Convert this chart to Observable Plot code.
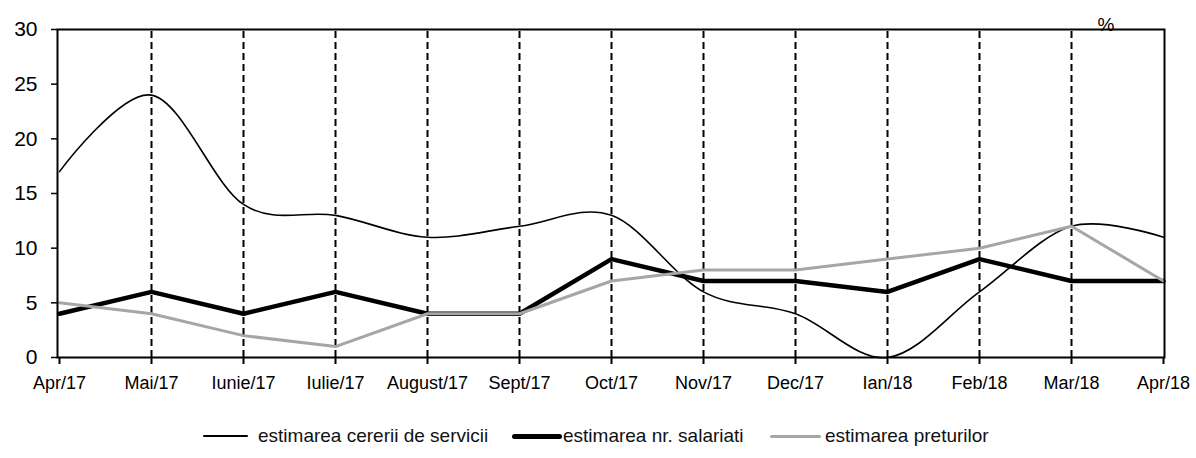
<!DOCTYPE html>
<html><head><meta charset="utf-8">
<script src="https://cdn.jsdelivr.net/npm/d3@7"></script>
<script src="https://cdn.jsdelivr.net/npm/@observablehq/plot@0.6"></script>
<style>
body{margin:0;background:#fff;font-family:"Liberation Sans",Arial,sans-serif;color:#000}
#legend{position:relative;width:1196px;height:53px}
.sw{position:absolute}
.lt{position:absolute;font-size:19px;line-height:20px;white-space:nowrap;color:#111}
</style></head><body><div id="chart"></div><div id="legend"></div>
<script>
const months = ["Apr/17","Mai/17","Iunie/17","Iulie/17","August/17","Sept/17","Oct/17","Nov/17","Dec/17","Ian/18","Feb/18","Mar/18","Apr/18"];
const cerereServicii = [17,24,14,13,11,12,13,6,4,0,6,12,11];
const nrSalariati = [4,6,4,6,4,4,9,7,7,6,9,7,7];
const preturi = [5,4,2,1,4,4,7,8,8,9,10,12,7];
const yTicks = [0,5,10,15,20,25,30];
const seriesNames = ["estimarea cererii de servicii","estimarea nr. salariati","estimarea preturilor"];
const unitLabel = "%";

const d1 = months.map((m,i)=>({m, v: cerereServicii[i]}));
const d2 = months.map((m,i)=>({m, v: nrSalariati[i]}));
const d3s = months.map((m,i)=>({m, v: preturi[i]}));

const plot = Plot.plot({
  width: 1196, height: 405,
  marginLeft: 57, marginRight: 32, marginTop: 29, marginBottom: 48,
  style: {fontFamily: "Liberation Sans, Arial, sans-serif", background: "#fff", color: "#000", overflow: "visible"},
  x: {type: "point", domain: months, padding: 0, label: null},
  y: {domain: [0, 30], label: null},
  marks: [
    Plot.ruleX(months.slice(1, -1), {y1: 0, y2: 30, stroke: "#000", strokeWidth: 2, strokeDasharray: "7,4"}),
    Plot.line(d1, {x: "m", y: "v", curve: "cardinal", stroke: "#000", strokeWidth: 1.6}),
    Plot.line(d2, {x: "m", y: "v", stroke: "#000", strokeWidth: 4.5, strokeLinejoin: "miter"}),
    Plot.line(d3s, {x: "m", y: "v", stroke: "#a6a6a6", strokeWidth: 3, strokeLinejoin: "miter"}),
    Plot.frame({stroke: "#000", strokeWidth: 2}),
    Plot.axisX({tickSize: 7, tickPadding: 12, fontSize: 18, strokeWidth: 2}),
    Plot.axisY({ticks: yTicks, tickSize: 6, tickPadding: 14, fontSize: 21, strokeWidth: 1.5}),
    Plot.text([unitLabel], {frameAnchor: "top-right", dx: -50, dy: 1, lineAnchor: "bottom", fontSize: 19})
  ]
});
document.getElementById("chart").appendChild(plot);

const legend = document.getElementById("legend");
const items = [
  {name: seriesNames[0], color: "#000", h: 2, lineLeft: 203, lineW: 45, textLeft: 258},
  {name: seriesNames[1], color: "#000", h: 5, lineLeft: 512, lineW: 50, textLeft: 563},
  {name: seriesNames[2], color: "#a6a6a6", h: 3, lineLeft: 770, lineW: 51, textLeft: 825}
];
const cy = 31;
for (const it of items) {
  const sw = document.createElement("div");
  sw.className = "sw";
  sw.style.left = it.lineLeft + "px";
  sw.style.width = it.lineW + "px";
  sw.style.height = it.h + "px";
  sw.style.top = (cy - it.h / 2) + "px";
  sw.style.background = it.color;
  sw.style.borderRadius = (it.h / 2) + "px";
  legend.appendChild(sw);
  const t = document.createElement("div");
  t.className = "lt";
  t.style.left = it.textLeft + "px";
  t.style.top = (cy - 10) + "px";
  t.textContent = it.name;
  legend.appendChild(t);
}
</script></body></html>
